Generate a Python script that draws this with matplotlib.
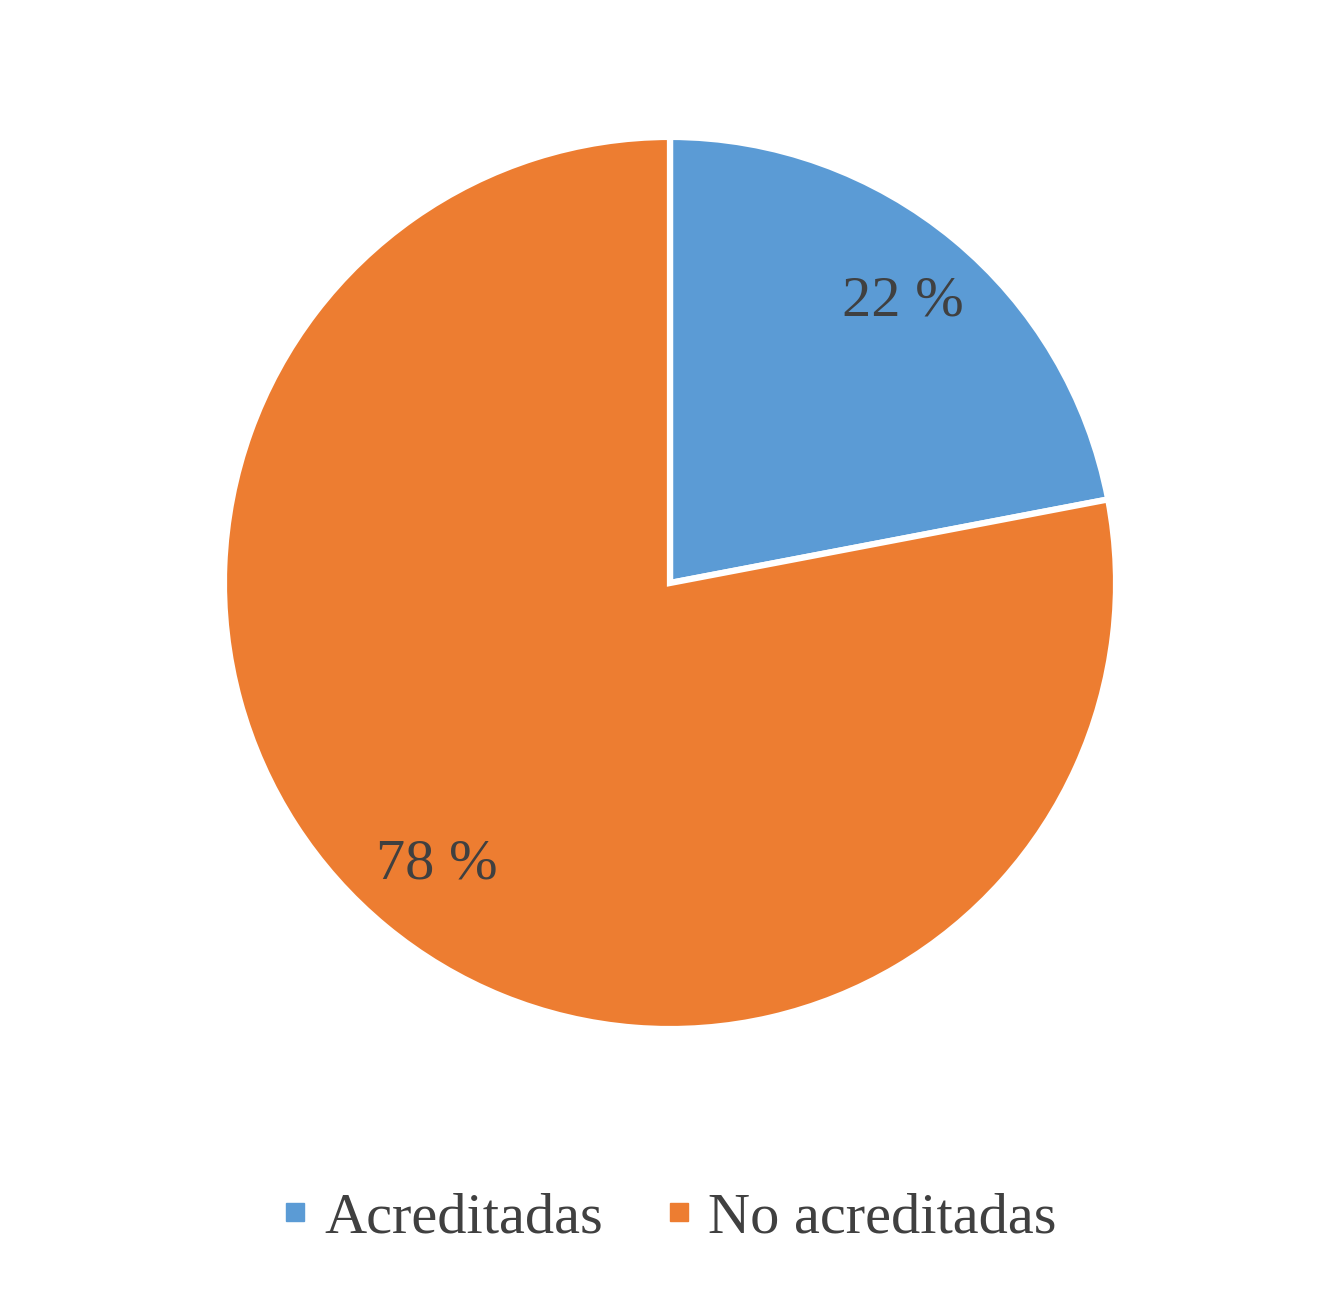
import matplotlib.pyplot as plt
from matplotlib.lines import Line2D

# data
labels = ["Acreditadas", "No acreditadas"]
shares = [22, 78]
colors = ["#5B9BD5", "#ED7D31"]
text_color = "#404040"

plt.rcParams['font.family'] = ['Liberation Serif', 'DejaVu Serif']

fig = plt.figure(figsize=(13.4, 12.99), dpi=100)
w, h = 0.6612 * 1.007, 0.682 * 1.007
ax = fig.add_axes([0.5 - w / 2, 0.5512 - h / 2, w, h])

wedges, texts, autotexts = ax.pie(
    shares, colors=colors, startangle=90, counterclock=False,
    autopct=lambda p: "%d %%" % round(p), pctdistance=0.82,
    wedgeprops=dict(edgecolor="white", linewidth=4.5),
    textprops=dict(fontsize=42, color=text_color))
ax.set_xlim(-1, 1)
ax.set_ylim(-1, 1)
ax.set_aspect("equal")

# legend at the bottom
handles = [Line2D([0], [0], marker="s", linestyle="none", markersize=13,
                  markerfacecolor=c, markeredgecolor=c) for c in colors]
fig.legend(handles, labels, loc="center", bbox_to_anchor=(0.5, 0.062),
           ncol=2, frameon=False, fontsize=42, labelcolor=text_color,
           handlelength=0.4, handletextpad=0.3, columnspacing=1.1)

fig.savefig("out.png", dpi=100)
